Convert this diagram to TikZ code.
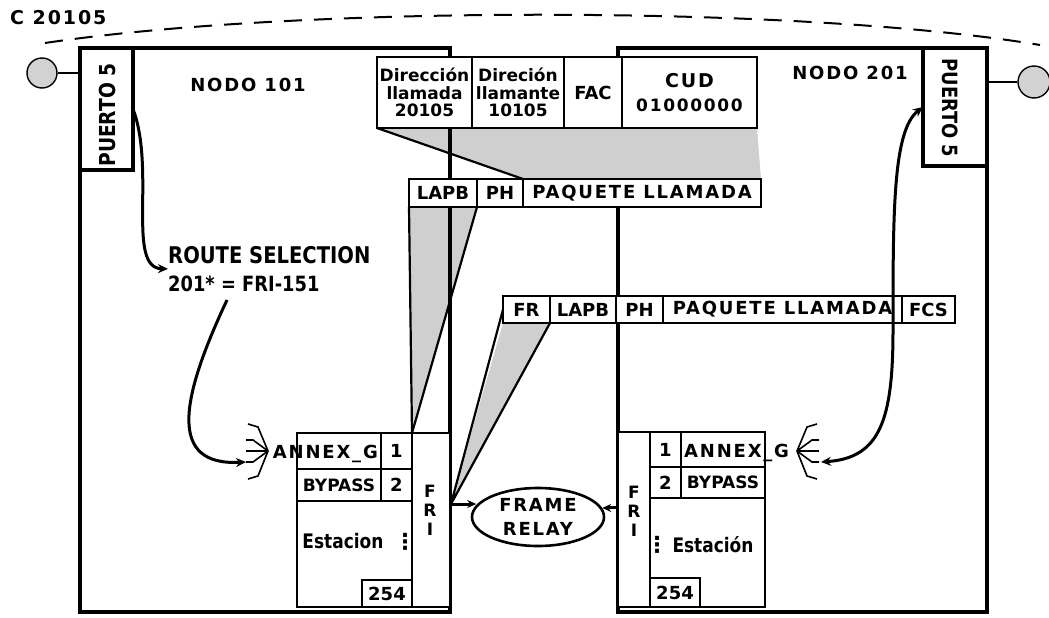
\documentclass[tikz,border=0pt]{standalone}
\usepackage{fontspec}
\setmainfont{DejaVu Sans}
\newfontfamily\fa{DejaVu Sans}[FakeStretch=0.85]
\newfontfamily\fb{DejaVu Sans}[LetterSpace=10]
\newfontfamily\fc{DejaVu Sans}[LetterSpace=18]
\usetikzlibrary{arrows.meta,shapes.geometric,calc}
\pgfdeclarelayer{back}
\pgfdeclarelayer{mid}
\pgfsetlayers{back,mid,main}
\tikzset{
 nbox/.style={draw, line width=3.4pt, inner sep=0pt, outer sep=0pt, anchor=north west},
 cell/.style={draw, line width=2pt, fill=white, inner sep=0pt, outer sep=0pt, anchor=north west, font=\bfseries\fontsize{18}{20}\selectfont},
 lbl/.style={inner sep=0pt, font=\bfseries\fontsize{18}{20}\selectfont},
 funnel/.style={fill=gray!38, draw=none},
 fedge/.style={line width=2.2pt},
 arr/.style={line width=3pt, -{Stealth[length=10pt,width=9pt]}},
 arrb/.style={line width=3pt, {Stealth[length=10pt,width=9pt]}-{Stealth[length=10pt,width=9pt]}},
 fan/.style={line width=1.6pt},
 port/.style={circle, draw, line width=1.4pt, fill=gray!35, inner sep=0pt},
}
\begin{document}
\begin{tikzpicture}[x=1pt,y=-1pt]
\useasboundingbox (0,0) rectangle (1049,618);
\begin{pgfonlayer}{back}
\fill[white] (0,0) rectangle (1049,618);
\node[nbox, minimum width=369, minimum height=564] (n201) at (618,48) {};
\end{pgfonlayer}

% dashed circuit
\coordinate (dl) at (45,43);
\coordinate (dr) at (1040,45);
\draw[line width=2pt, dash pattern=on 18pt off 12pt] (dl) .. controls (300,5) and (800,5) .. (dr);
\node[lbl, anchor=base west, font=\fb\bfseries\fontsize{19}{20}\selectfont] (cnum) at (10,25) {C 20105};

% node boxes
\node[nbox, minimum width=370, minimum height=564] (n101) at (80,48) {};
\node[nbox, minimum width=53, minimum height=122] (p1) at (80,48) {};
\node[nbox, minimum width=64, minimum height=118] (p2) at (923,48) {};
\node[rotate=90, inner sep=0pt, font=\fa\bfseries\fontsize{22}{24}\selectfont] (pt1) at (107,115) {PUERTO 5};
\node[rotate=-90, inner sep=0pt, font=\fa\bfseries\fontsize{21}{24}\selectfont] (pt2) at (950,108) {PUERTO 5};
\node[lbl, anchor=base, font=\fb\bfseries\fontsize{18}{20}\selectfont] (nl) at (248,92) {NODO 101};
\node[lbl, anchor=base, font=\fb\bfseries\fontsize{18}{20}\selectfont] (nr) at (850,80) {NODO 201};

% ports
\node[port, minimum size=30] (c1) at (42,73) {};
\node[port, minimum size=32] (c2) at (1034,82) {};
\draw[line width=1.6pt] (c1.east) -- (c1.east -| n101.west);
\draw[line width=1.6pt] (c2.west) -- (c2.west -| n201.east);

% packet tables
\node[cell, minimum width=95, minimum height=71, align=center, font=\bfseries\fontsize{17}{17.5}\selectfont] (t1a) at (377,57) {Dirección\\llamada\\20105};
\node[cell, minimum width=92, minimum height=71, align=center, font=\bfseries\fontsize{17}{17.5}\selectfont] (t1b) at (472,57) {Direción\\llamante\\10105};
\node[cell, minimum width=58, minimum height=71, font=\bfseries\fontsize{18}{20}\selectfont] (t1c) at (564,57) {FAC};
\node[cell, minimum width=135, minimum height=71, align=center, font=\fb\bfseries\fontsize{17}{24}\selectfont] (t1d) at (622,57) {{\fontsize{19}{24}\selectfont CUD}\\01000000};

\node[cell, minimum width=68, minimum height=28] (t2a) at (409,179) {LAPB};
\node[cell, minimum width=46, minimum height=28] (t2b) at (477,179) {PH};
\node[cell, minimum width=238, minimum height=28, font=\fb\bfseries\fontsize{18}{20}\selectfont] (t2c) at (523,179) {PAQUETE LLAMADA};

\node[cell, minimum width=47, minimum height=27] (t3a) at (503,296) {FR};
\node[cell, minimum width=66, minimum height=27] (t3b) at (550,296) {LAPB};
\node[cell, minimum width=47, minimum height=27] (t3c) at (616,296) {PH};
\node[cell, minimum width=239, minimum height=27, font=\fb\bfseries\fontsize{18}{20}\selectfont] (t3d) at (663,296) {PAQUETE LLAMADA};
\node[cell, minimum width=53, minimum height=27] (t3e) at (902,296) {FCS};

% left FRI table
\node[cell, minimum width=84, minimum height=36] (la1) at (297,433) {};
\node[cell, minimum width=31, minimum height=36] (la2) at (381,433) {1};
\node[cell, minimum width=84, minimum height=32, font=\bfseries\fontsize{17}{20}\selectfont] (lb1) at (297,469) {BYPASS};
\node[cell, minimum width=31, minimum height=32] (lb2) at (381,469) {2};
\node[cell, minimum width=115, minimum height=106] (lc) at (297,501) {};
\node[cell, minimum width=50, minimum height=27, font=\bfseries\fontsize{18}{20}\selectfont] (l254) at (362,580) {254};
\node[cell, minimum width=38, minimum height=174] (lfri) at (412,433) {};
\node[lbl, align=center, font=\bfseries\fontsize{17}{19}\selectfont] (lfrit) at (430,510) {F\\R\\I};
\node[lbl, anchor=base east, font=\fb\bfseries\fontsize{18}{20}\selectfont] (lan) at (378,458) {ANNEX\_G};
\node[lbl, anchor=base, font=\fa\bfseries\fontsize{20}{20}\selectfont] (lest) at (343,548) {Estacion};
\node[lbl, font=\bfseries\fontsize{22}{22}\selectfont] (ldots) at (405,542) {⋮};

% right FRI table
\node[cell, minimum width=32, minimum height=175] (rfri) at (618,432) {};
\node[cell, minimum width=31, minimum height=35] (ra1) at (650,432) {1};
\node[cell, minimum width=84, minimum height=35] (ra2) at (681,432) {};
\node[cell, minimum width=31, minimum height=31] (rb1) at (650,467) {2};
\node[cell, minimum width=84, minimum height=31, font=\bfseries\fontsize{17}{20}\selectfont] (rb2) at (681,467) {BYPASS};
\node[cell, minimum width=115, minimum height=109] (rc) at (650,498) {};
\node[cell, minimum width=50, minimum height=29, font=\bfseries\fontsize{18}{20}\selectfont] (r254) at (650,578) {254};
\node[lbl, align=center, font=\bfseries\fontsize{17}{19}\selectfont] (rfrit) at (634,511) {F\\R\\I};
\node[lbl, anchor=base west, font=\fb\bfseries\fontsize{18}{20}\selectfont] (ran) at (684,457) {ANNEX\_G};
\node[lbl, anchor=base, font=\fa\bfseries\fontsize{20}{20}\selectfont] (rest) at (713,552) {Estación};
\node[lbl, font=\bfseries\fontsize{22}{22}\selectfont] (rdots) at (657,545) {⋮};

% funnels
\coordinate (apex) at (451,504);
\begin{pgfonlayer}{mid}
\fill[funnel] (t1a.south west) -- (t1d.south east) -- (t2c.north east) -- (t2c.north west) -- cycle;
\draw[fedge] (t1a.south west) -- (t2c.north west);
\fill[funnel] (t2a.south west) -- (t2b.south west) -- (lfri.north west) -- cycle;
\draw[fedge] (t2a.south west) -- (lfri.north west) -- (t2b.south west);
\fill[funnel] (t3a.south west) -- (t3a.south east) -- (apex) -- cycle;
\draw[fedge] (t3a.west) -- (apex) -- (t3a.south east);
\end{pgfonlayer}

% frame relay
\node[ellipse, draw, line width=2.6pt, minimum width=132, minimum height=58, inner sep=0pt, align=center, font=\fb\bfseries\fontsize{18}{24}\selectfont] (fr) at (538,517) {FRAME\\RELAY};
\draw[arr, -{Stealth[length=9pt,width=8pt]}] (apex) -- (apex -| fr.169);
\draw[arr, -{Stealth[length=9pt,width=8pt]}] (rfri.west |- fr.8) -- (fr.8);

% route selection
\node[anchor=north west, inner sep=0pt, align=left, font=\fa\bfseries\fontsize{23}{28}\selectfont] (rs) at (168,246) {ROUTE SELECTION\\{\fontsize{21}{28}\selectfont 201* = FRI-151}};

% fans
\coordinate (fl) at (268,451);
\coordinate (fle) at (246,462);
\draw[fan] (fl) -- (258,427) -- (248,424);
\draw[fan] (fl) -- (253,440) -- (246,440);
\draw[fan] (fl) -- (246,451);
\draw[fan] (fl) -- (253,462) -- (fle);
\draw[fan] (fl) -- (258,476) -- (248,479);
\coordinate (fr0) at (797,451);
\coordinate (fre) at (821,462);
\draw[fan] (fr0) -- (807,427) -- (817,424);
\draw[fan] (fr0) -- (812,440) -- (819,440);
\draw[fan] (fr0) -- (819,451);
\draw[fan] (fr0) -- (812,462) -- (819,462);
\draw[fan] (fr0) -- (807,476) -- (817,479);

% routing arrows
\coordinate (rsb) at (227,300);
\draw[arr] (p1.east) .. controls (156,170) and (126,268) .. (rs.west);
\draw[arr] (rsb) .. controls (180,400) and (168,466) .. (fle);
\draw[arrb] (fre) .. controls (880,458) and (893,420) .. (893,330) .. controls (893,210) and (893,130) .. (p2.west);
\end{tikzpicture}
\end{document}
